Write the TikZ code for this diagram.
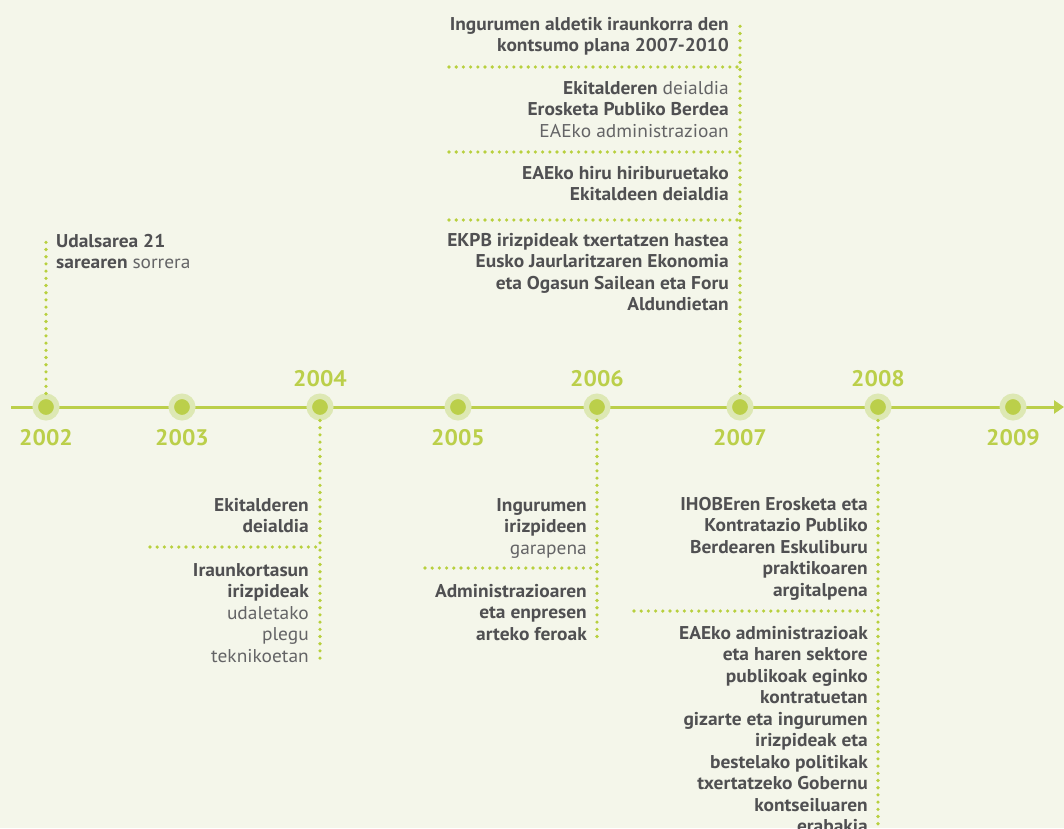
\documentclass[tikz,border=0pt]{standalone}
\usepackage{fontspec}
\setmainfont{PT Sans}[FakeStretch=1.05]
\usetikzlibrary{arrows.meta}
\definecolor{bgc}{RGB}{244,246,234}
\definecolor{linec}{RGB}{187,207,74}
\definecolor{haloc}{RGB}{221,232,180}
\definecolor{dotc}{RGB}{184,208,62}
\definecolor{txt}{RGB}{80,80,82}
\definecolor{txtlight}{RGB}{100,100,102}
\newcommand{\lt}[1]{{\mdseries\color{txtlight}#1}}
\begin{document}
\begin{tikzpicture}[x=1pt,y=-1pt,
  tl/.style={draw=linec,line width=3pt},
  yeardot/.style={circle,fill=linec,draw=haloc,line width=5.5pt,minimum size=21.5pt,inner sep=0pt},
  year/.style={text=linec,font=\bfseries\fontsize{22.5}{24}\selectfont,inner sep=0pt},
  dotl/.style={draw=dotc,line width=3.6pt,line cap=round,dash pattern=on 0pt off 7.2pt},
  blk/.style={text=txt,font=\bfseries\fontsize{18.5}{21.5}\selectfont,inner sep=0pt,align=right,anchor=north east},
  blkl/.style={blk,align=left,anchor=north west}]
\fill[bgc] (0,0) rectangle (1064,828);
\useasboundingbox (0,0) rectangle (1064,828);
% timeline
\coordinate (ls) at (11,407);
\coordinate (le) at (1064,407);
\draw[tl,-{Triangle[length=10pt,width=13pt]}] (ls) -- (le);
\node[yeardot] (d2002) at (46,407) {};
\node[yeardot] (d2003) at (182,407) {};
\node[yeardot] (d2004) at (320,407) {};
\node[yeardot] (d2005) at (458,407) {};
\node[yeardot] (d2006) at (597,407) {};
\node[yeardot] (d2007) at (740,407) {};
\node[yeardot] (d2008) at (878,407) {};
\node[yeardot] (d2009) at (1013,407) {};
\node[year] (y2002) at (46,438) {2002};
\node[year] (y2003) at (182,438) {2003};
\node[year] (y2004) at (320,379) {2004};
\node[year] (y2005) at (458,438) {2005};
\node[year] (y2006) at (597,379) {2006};
\node[year] (y2007) at (740,438) {2007};
\node[year] (y2008) at (878,379) {2008};
\node[year] (y2009) at (1013,438) {2009};
% 2002
\coordinate (t2002) at (46,241);
\draw[dotl] (d2002) -- (t2002);
\node[blkl] (b2002) at (56,234) {Udalsarea 21\\ sarearen \lt{sorrera}};
% 2004
\coordinate (t2004) at (320,662);
\draw[dotl] (d2004) -- (t2004);
\coordinate (s2004) at (320,547);
\coordinate (s2004l) at (150,547);
\draw[dotl] (s2004l) -- (s2004);
\node[blk] (b2004a) at (309,498) {Ekitalderen\\ deialdia};
\node[blk] (b2004b) at (309,563) {Iraunkortasun\\ irizpideak\\ \lt{udaletako}\\ \lt{plegu}\\ \lt{teknikoetan}};
% 2006
\coordinate (t2006) at (597,637);
\draw[dotl] (d2006) -- (t2006);
\coordinate (s2006) at (597,568);
\coordinate (s2006l) at (425,568);
\draw[dotl] (s2006l) -- (s2006);
\node[blk] (b2006a) at (587,498) {Ingurumen\\ irizpideen\\ \lt{garapena}};
\node[blk] (b2006b) at (587,584) {Administrazioaren\\ eta enpresen\\ arteko feroak};
% 2007
\coordinate (t2007) at (740,20);
\draw[dotl] (d2007) -- (t2007);
\coordinate (s2007a) at (740,67);
\coordinate (s2007al) at (449,67);
\coordinate (s2007b) at (740,152);
\coordinate (s2007bl) at (449,152);
\coordinate (s2007c) at (740,220);
\coordinate (s2007cl) at (449,220);
\draw[dotl] (s2007al) -- (s2007a);
\draw[dotl] (s2007bl) -- (s2007b);
\draw[dotl] (s2007cl) -- (s2007c);
\node[blk] (b2007a) at (729,17) {Ingurumen aldetik iraunkorra den\\ kontsumo plana 2007-2010};
\node[blk] (b2007b) at (729,81) {Ekitalderen \lt{deialdia}\\ Erosketa Publiko Berdea\\ \lt{EAEko administrazioan}};
\node[blk] (b2007c) at (729,166) {EAEko hiru hiriburuetako\\ Ekitaldeen deialdia};
\node[blk] (b2007d) at (729,233) {EKPB irizpideak txertatzen hastea\\ Eusko Jaurlaritzaren Ekonomia\\ eta Ogasun Sailean eta Foru\\ Aldundietan};
% 2008
\coordinate (t2008) at (878,832);
\draw[dotl] (d2008) -- (t2008);
\coordinate (s2008) at (878,611);
\coordinate (s2008l) at (634,611);
\draw[dotl] (s2008l) -- (s2008);
\node[blk] (b2008a) at (868,497) {IHOBEren Erosketa eta\\ Kontratazio Publiko\\ Berdearen Eskuliburu\\ praktikoaren\\ argitalpena};
\node[blk] (b2008b) at (868,626) {EAEko administrazioak\\ eta haren sektore\\ publikoak eginko\\ kontratuetan\\ gizarte eta ingurumen\\ irizpideak eta\\ bestelako politikak\\ txertatzeko Gobernu\\ kontseiluaren\\ erabakia};
\end{tikzpicture}
\end{document}
